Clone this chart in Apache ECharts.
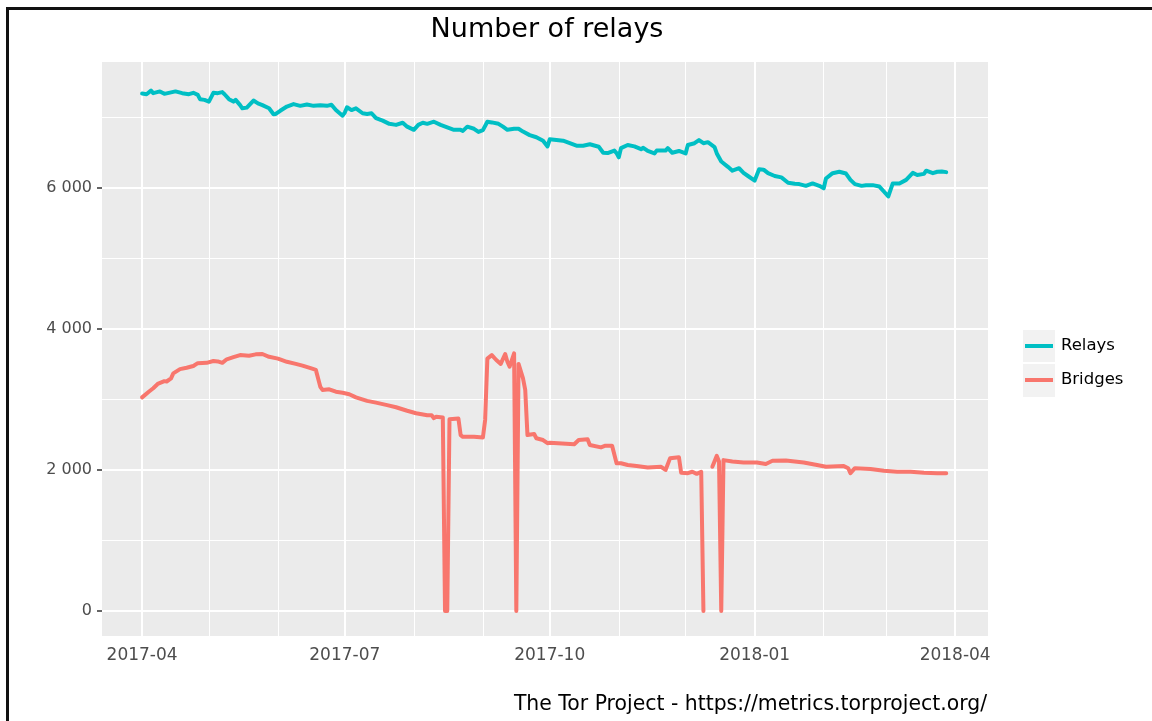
<!DOCTYPE html>
<html>
<head>
<meta charset="utf-8">
<title>Number of relays</title>
<script src="https://cdn.jsdelivr.net/npm/echarts@6/dist/echarts.min.js"></script>
<style>
  html, body { margin: 0; padding: 0; background: #fff; }
  #chart { width: 1152px; height: 721px; }
</style>
</head>
<body>
<div id="chart"></div>
<script>
const FONT = 'DejaVu Sans'

// relays
const relayDates = [
  '2017-04-01','2017-04-03','2017-04-05','2017-04-06','2017-04-09','2017-04-11','2017-04-16','2017-04-19',
  '2017-04-22','2017-04-24','2017-04-26','2017-04-27','2017-04-29','2017-05-01','2017-05-03','2017-05-05',
  '2017-05-07','2017-05-08','2017-05-10','2017-05-12','2017-05-13','2017-05-15','2017-05-16','2017-05-18',
  '2017-05-21','2017-05-23','2017-05-25','2017-05-28','2017-05-30','2017-05-31','2017-06-02','2017-06-05',
  '2017-06-08','2017-06-11','2017-06-14','2017-06-17','2017-06-20','2017-06-23','2017-06-25','2017-06-27',
  '2017-06-30','2017-07-01','2017-07-02','2017-07-04','2017-07-06','2017-07-09','2017-07-11','2017-07-13',
  '2017-07-15','2017-07-18','2017-07-21','2017-07-24','2017-07-27','2017-07-29','2017-08-01','2017-08-03',
  '2017-08-05','2017-08-07','2017-08-10','2017-08-13','2017-08-16','2017-08-19','2017-08-22','2017-08-23',
  '2017-08-25','2017-08-28','2017-08-30','2017-09-01','2017-09-03','2017-09-05','2017-09-08','2017-09-10',
  '2017-09-12','2017-09-15','2017-09-17','2017-09-19','2017-09-22','2017-09-25','2017-09-28','2017-09-30',
  '2017-10-01','2017-10-04','2017-10-07','2017-10-10','2017-10-13','2017-10-16','2017-10-19','2017-10-23',
  '2017-10-25','2017-10-27','2017-10-30','2017-10-31','2017-11-01','2017-11-02','2017-11-05','2017-11-08',
  '2017-11-11','2017-11-12','2017-11-14','2017-11-17','2017-11-18','2017-11-22','2017-11-23','2017-11-25',
  '2017-11-28','2017-12-01','2017-12-02','2017-12-05','2017-12-07','2017-12-09','2017-12-11','2017-12-14',
  '2017-12-15','2017-12-17','2017-12-20','2017-12-22','2017-12-25','2017-12-27','2017-12-29','2018-01-01',
  '2018-01-03','2018-01-05','2018-01-07','2018-01-10','2018-01-13','2018-01-16','2018-01-19','2018-01-21',
  '2018-01-24','2018-01-27','2018-01-30','2018-02-01','2018-02-02','2018-02-05','2018-02-08','2018-02-11',
  '2018-02-13','2018-02-15','2018-02-18','2018-02-20','2018-02-23','2018-02-26','2018-02-28','2018-03-02',
  '2018-03-04','2018-03-07','2018-03-10','2018-03-13','2018-03-15','2018-03-18','2018-03-19','2018-03-22',
  '2018-03-24','2018-03-26','2018-03-28'
]
const relayValues = [
  7340, 7330, 7380, 7345, 7370, 7335, 7370, 7345,
  7330, 7350, 7320, 7260, 7250, 7225, 7350, 7345,
  7360, 7330, 7260, 7225, 7250, 7175, 7130, 7140,
  7240, 7200, 7175, 7130, 7045, 7050, 7095, 7155,
  7190, 7165, 7185, 7165, 7175, 7165, 7180, 7105,
  7025, 7070, 7145, 7105, 7130, 7060, 7050, 7060,
  6990, 6955, 6910, 6895, 6925, 6870, 6825, 6895,
  6925, 6910, 6940, 6895, 6860, 6825, 6825, 6810,
  6870, 6840, 6795, 6820, 6940, 6930, 6910, 6870,
  6825, 6840, 6840, 6800, 6750, 6720, 6670, 6590,
  6690, 6680, 6670, 6635, 6600, 6600, 6620, 6585,
  6500, 6495, 6530, 6495, 6435, 6565, 6610, 6590,
  6550, 6570, 6525, 6490, 6530, 6530, 6565, 6500,
  6525, 6490, 6610, 6635, 6680, 6635, 6650, 6580,
  6490, 6375, 6300, 6245, 6280, 6215, 6170, 6105,
  6265, 6260, 6210, 6170, 6150, 6075, 6060, 6055,
  6030, 6065, 6030, 5995, 6135, 6210, 6230, 6205,
  6115, 6055, 6030, 6040, 6040, 6020, 5950, 5880,
  6065, 6065, 6115, 6215, 6185, 6200, 6245, 6210,
  6230, 6235, 6225
]

// bridges (null = missing day, line breaks there)
const bridgeDates = [
  '2017-04-01','2017-04-04','2017-04-06','2017-04-08','2017-04-11','2017-04-12','2017-04-14','2017-04-15',
  '2017-04-18','2017-04-21','2017-04-24','2017-04-26','2017-04-30','2017-05-03','2017-05-05','2017-05-07',
  '2017-05-09','2017-05-12','2017-05-15','2017-05-19','2017-05-22','2017-05-25','2017-05-28','2017-06-01',
  '2017-06-05','2017-06-09','2017-06-12','2017-06-16','2017-06-18','2017-06-19','2017-06-20','2017-06-21',
  '2017-06-24','2017-06-27','2017-06-30','2017-07-03','2017-07-06','2017-07-11','2017-07-15','2017-07-20',
  '2017-07-24','2017-07-29','2017-08-02','2017-08-07','2017-08-09','2017-08-10','2017-08-11','2017-08-14',
  '2017-08-15','2017-08-16','2017-08-17','2017-08-21','2017-08-22','2017-08-23','2017-08-28','2017-09-01',
  '2017-09-02','2017-09-03','2017-09-05','2017-09-07','2017-09-09','2017-09-11','2017-09-12','2017-09-13',
  '2017-09-15','2017-09-16','2017-09-17','2017-09-19','2017-09-20','2017-09-21','2017-09-24','2017-09-25',
  '2017-09-28','2017-09-30','2017-10-01','2017-10-12','2017-10-14','2017-10-18','2017-10-19','2017-10-24',
  '2017-10-26','2017-10-29','2017-10-31','2017-11-02','2017-11-05','2017-11-09','2017-11-14','2017-11-20',
  '2017-11-22','2017-11-24','2017-11-28','2017-11-29','2017-12-02','2017-12-04','2017-12-06','2017-12-08',
  '2017-12-09','2017-12-11','2017-12-13','2017-12-15','2017-12-16','2017-12-17','2017-12-18','2017-12-22',
  '2017-12-27','2018-01-02','2018-01-06','2018-01-09','2018-01-15','2018-01-23','2018-01-29','2018-02-02',
  '2018-02-10','2018-02-12','2018-02-13','2018-02-15','2018-02-22','2018-02-28','2018-03-06','2018-03-12',
  '2018-03-18','2018-03-24','2018-03-28'
]
const bridgeValues = [
  3030, 3110, 3160, 3220, 3260, 3255, 3300, 3370,
  3430, 3450, 3475, 3515, 3520, 3545, 3540, 3520,
  3570, 3600, 3630, 3620, 3640, 3645, 3605, 3580,
  3535, 3505, 3480, 3440, 3420, 3300, 3180, 3135,
  3145, 3110, 3095, 3075, 3030, 2980, 2955, 2920,
  2890, 2840, 2805, 2775, 2775, 2735, 2755, 2745,
  0, 0, 2720, 2730, 2495, 2470, 2470, 2460,
  2710, 3580, 3630, 3560, 3505, 3645, 3535, 3465,
  3655, 0, 3505, 3300, 3135, 2495, 2510, 2450,
  2425, 2380, 2385, 2365, 2425, 2435, 2355, 2320,
  2345, 2345, 2095, 2095, 2070, 2055, 2035, 2045,
  2000, 2165, 2180, 1960, 1955, 1975, 1945, 1975,
  0, null, 2045, 2200, 2120, 0, 2140, 2120,
  2105, 2105, 2085, 2130, 2135, 2105, 2070, 2045,
  2055, 2025, 1955, 2025, 2015, 1990, 1975, 1975,
  1960, 1955, 1955
]

// axis ticks and grid lines
const majorDates = ['2017-04-01', '2017-07-01', '2017-10-01', '2018-01-01', '2018-04-01']
const minorDates = ['2017-05-01', '2017-06-01', '2017-08-01', '2017-09-01',
  '2017-11-01', '2017-12-01', '2018-02-01', '2018-03-01']
const majorValues = [0, 2000, 4000, 6000]
const minorValues = [1000, 3000, 5000, 7000]

const ts = d => +echarts.time.parse(d)
const majorTs = majorDates.map(ts)
const minorTs = minorDates.map(ts)

function formatThousands(v) {
  return String(v).replace(/\B(?=(\d{3})+(?!\d))/g, ' ')
}

// white panel grid, drawn as mark lines under the data
function gridLines(name, ys, xs, width) {
  return {
    name: name,
    type: 'line',
    data: [],
    silent: true,
    z: 1,
    markLine: {
      z: 1,
      silent: true,
      animation: false,
      symbol: ['none', 'none'],
      label: { show: false },
      lineStyle: { color: '#ffffff', width: width, type: 'solid' },
      emphasis: { disabled: true },
      data: ys.map(v => ({ yAxis: v })).concat(xs.map(t => ({ xAxis: t })))
    }
  }
}

const chart = echarts.init(document.getElementById('chart'))

const option = {
  animation: false,
  backgroundColor: '#ffffff',
  title: {
    text: 'Number of relays',
    left: 542,
    top: 11,
    textAlign: 'center',
    textStyle: { fontFamily: FONT, fontSize: 27, fontWeight: 'normal', color: '#000' }
  },
  grid: {
    left: 102,
    right: 164,
    top: 62,
    bottom: 85,
    show: true,
    backgroundColor: '#EBEBEB',
    borderWidth: 0
  },
  legend: {
    data: ['Relays', 'Bridges'],
    orient: 'vertical',
    left: 1025,
    top: 336,
    padding: 0,
    icon: 'rect',
    itemWidth: 28,
    itemHeight: 4,
    itemGap: 14,
    textStyle: { fontFamily: FONT, fontSize: 16.5, color: '#000', lineHeight: 20, padding: [0, 0, 0, 3] }
  },
  xAxis: {
    type: 'value',
    min: ts('2017-03-14'),
    max: ts('2018-04-15 18:00'),
    axisLine: { show: false },
    splitLine: { show: false },
    axisTick: {
      show: true,
      length: 5,
      customValues: majorTs,
      lineStyle: { color: '#333333', width: 1.5 }
    },
    axisLabel: {
      customValues: majorTs,
      formatter: v => echarts.time.format(v, '{yyyy}-{MM}', false),
      color: '#4D4D4D',
      fontFamily: FONT,
      fontSize: 17,
      margin: 11
    }
  },
  yAxis: {
    type: 'value',
    min: -355,
    max: 7787,
    axisLine: { show: false },
    splitLine: { show: false },
    axisTick: {
      show: true,
      length: 5,
      customValues: majorValues,
      lineStyle: { color: '#333333', width: 1.5 }
    },
    axisLabel: {
      customValues: majorValues,
      formatter: formatThousands,
      color: '#4D4D4D',
      fontFamily: FONT,
      fontSize: 16,
      margin: 10
    }
  },
  graphic: [
    { type: 'rect', z: 0, shape: { x: 1023, y: 330, width: 32, height: 32 }, style: { fill: '#F2F2F2' } },
    { type: 'rect', z: 0, shape: { x: 1023, y: 364, width: 32, height: 33 }, style: { fill: '#F2F2F2' } },
    {
      type: 'text',
      z: 10,
      style: {
        text: 'The Tor Project - https://metrics.torproject.org/',
        x: 987,
        y: 705,
        align: 'right',
        verticalAlign: 'middle',
        font: '20.4px "DejaVu Sans"',
        fill: '#000'
      }
    },
    {
      type: 'polyline',
      z: 10,
      shape: { points: [[7.5, 721], [7.5, 8.5], [1152, 8.5]] },
      style: { stroke: '#111', lineWidth: 3, fill: null }
    }
  ],
  series: [
    gridLines('gridMinor', minorValues, minorTs, 1),
    gridLines('gridMajor', majorValues, majorTs, 2),
    {
      name: 'Relays',
      type: 'line',
      z: 10,
      showSymbol: false,
      symbol: 'none',
      connectNulls: false,
      color: '#00BFC4',
      lineStyle: { color: '#00BFC4', width: 4, join: 'round', cap: 'round' },
      data: relayDates.map((d, i) => [ts(d), relayValues[i]])
    },
    {
      name: 'Bridges',
      type: 'line',
      z: 10,
      showSymbol: false,
      symbol: 'none',
      connectNulls: false,
      color: '#F8766D',
      lineStyle: { color: '#F8766D', width: 4, join: 'round', cap: 'round' },
      data: bridgeDates.map((d, i) => [ts(d), bridgeValues[i]])
    }
  ]
}

chart.setOption(option)
window.addEventListener('resize', () => chart.resize())
</script>
</body>
</html>
